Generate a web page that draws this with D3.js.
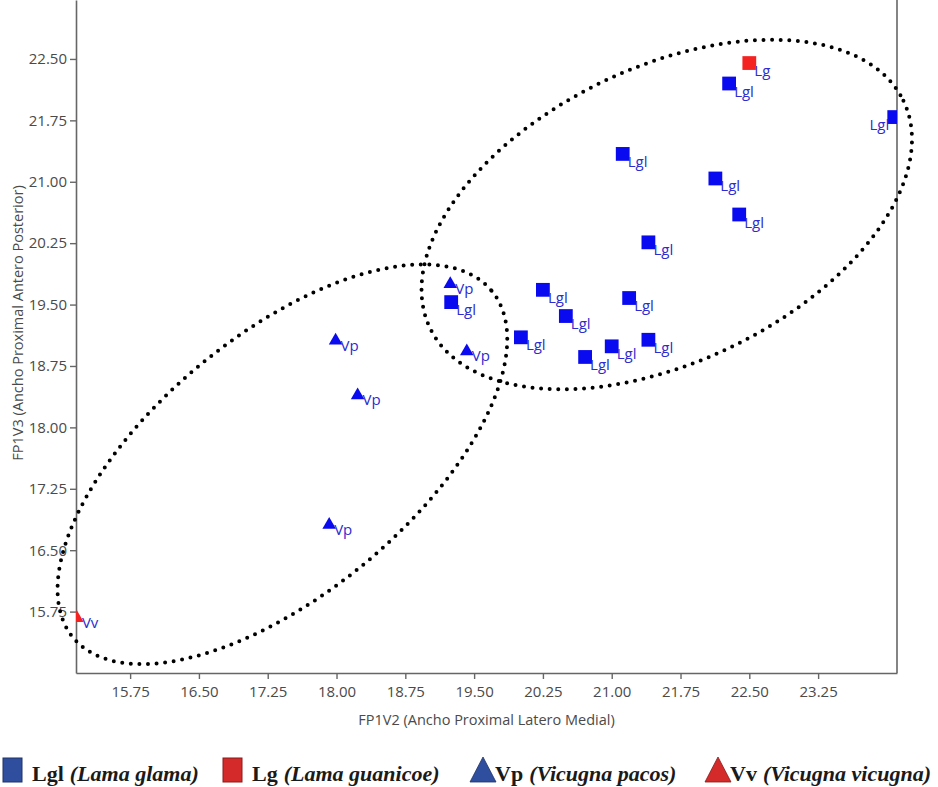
<!DOCTYPE html>
<html>
<head>
<meta charset="utf-8">
<script src="https://cdn.jsdelivr.net/npm/d3@7"></script>
<style>
  body { margin: 0; background: #fff; }
  svg { display: block; }
</style>
</head>
<body>
<svg id="chart" width="938" height="787"></svg>
<script>
// values
const xTicks = [15.75, 16.50, 17.25, 18.00, 18.75, 19.50, 20.25, 21.00, 21.75, 22.50, 23.25];
const yTicks = [15.75, 16.50, 17.25, 18.00, 18.75, 19.50, 20.25, 21.00, 21.75, 22.50];

const lglX = [22.28, 24.08, 21.12, 22.13, 22.39, 21.40, 20.25, 21.19, 19.25, 20.50, 20.01, 20.71, 21.00, 21.40];
const lglY = [22.20, 21.79, 21.34, 21.04, 20.60, 20.26, 19.68, 19.58, 19.53, 19.36, 19.10, 18.86, 18.99, 19.07];
const lgX = [22.50];
const lgY = [22.45];
const vpX = [19.24, 17.99, 19.42, 18.23, 17.92];
const vpY = [19.75, 19.06, 18.93, 18.39, 16.81];
const vvX = [15.17];
const vvY = [15.67];

const speciesCodes = ["Lgl", "Lg", "Vp", "Vv"];
const speciesNames = ["(Lama glama)", "(Lama guanicoe)", "(Vicugna pacos)", "(Vicugna vicugna)"];

// ellipses: centre, end of major semi-axis, end of minor semi-axis (data units)
const ellipseCentres = [[21.60, 20.60], [17.41, 17.55]];
const ellipseMajorEnds = [[24.18, 21.99], [19.69, 19.67]];
const ellipseMinorEnds = [[22.30, 18.98], [18.31, 16.34]];

const svg = d3.select("#chart");

const plotLeft = 76, plotRight = 897, plotTop = 0, plotBottom = 673;

const x = d3.scaleLinear().domain([15.16, 24.11]).range([plotLeft, plotRight]);
const y = d3.scaleLinear().domain([15.0, 23.22]).range([plotBottom, plotTop]);

const tickFont = "'Open Sans', 'Noto Sans', sans-serif";

// axes
const xAxis = svg.append("g")
    .attr("transform", `translate(0,${plotBottom})`)
    .call(d3.axisBottom(x).tickValues(xTicks).tickFormat(d3.format(".2f")).tickSize(6).tickSizeOuter(0).tickPadding(7));

const yAxis = svg.append("g")
    .attr("transform", `translate(${plotLeft},0)`)
    .call(d3.axisLeft(y).tickValues(yTicks).tickFormat(d3.format(".2f")).tickSize(6).tickSizeOuter(0).tickPadding(3));

[xAxis, yAxis].forEach(g => {
    g.select(".domain").attr("stroke", "#666").attr("stroke-width", 1.6);
    g.selectAll(".tick line").attr("stroke", "#666").attr("stroke-width", 1.4);
    g.selectAll(".tick text")
        .attr("fill", "#4a4a4a")
        .style("font-family", tickFont)
        .style("font-size", "15px");
});

svg.append("line")
    .attr("x1", plotRight).attr("x2", plotRight)
    .attr("y1", plotTop).attr("y2", plotBottom)
    .attr("stroke", "#666").attr("stroke-width", 1.6);

svg.append("text")
    .attr("x", (plotLeft + plotRight) / 2)
    .attr("y", 725)
    .attr("text-anchor", "middle")
    .attr("fill", "#4a4a4a")
    .style("font-family", tickFont)
    .style("font-size", "14.5px")
    .text("FP1V2 (Ancho Proximal Latero Medial)");

svg.append("text")
    .attr("transform", "translate(23,323) rotate(-90)")
    .attr("text-anchor", "middle")
    .attr("fill", "#4a4a4a")
    .style("font-family", tickFont)
    .style("font-size", "14.5px")
    .text("FP1V3 (Ancho Proximal Antero Posterior)");

// dotted ellipses
const ellipseLine = d3.line().curve(d3.curveLinearClosed);
ellipseCentres.forEach((c, i) => {
    const m = ellipseMajorEnds[i], n = ellipseMinorEnds[i];
    const pts = d3.range(0, 360, 1).map(deg => {
        const t = deg * Math.PI / 180;
        const vx = c[0] + Math.cos(t) * (m[0] - c[0]) + Math.sin(t) * (n[0] - c[0]);
        const vy = c[1] + Math.cos(t) * (m[1] - c[1]) + Math.sin(t) * (n[1] - c[1]);
        return [x(vx), y(vy)];
    });
    svg.append("path")
        .attr("d", ellipseLine(pts))
        .attr("fill", "none")
        .attr("stroke", "#000")
        .attr("stroke-width", 4)
        .attr("stroke-linecap", "round")
        .attr("stroke-dasharray", "0 8.6");
});

// markers, clipped to the plot frame
svg.append("clipPath").attr("id", "plot-clip")
    .append("rect")
    .attr("x", plotLeft).attr("y", plotTop)
    .attr("width", plotRight - plotLeft).attr("height", plotBottom - plotTop);

const markGroup = svg.append("g").attr("clip-path", "url(#plot-clip)");
const labelGroup = svg.append("g");

const series = [
    {code: "Lgl", xs: lglX, ys: lglY, shape: "square", colour: "#0a0af0"},
    {code: "Lg", xs: lgX, ys: lgY, shape: "square", colour: "#f52222"},
    {code: "Vp", xs: vpX, ys: vpY, shape: "triangle", colour: "#0a0af0"},
    {code: "Vv", xs: vvX, ys: vvY, shape: "triangle", colour: "#f52222"}
];

const squareSym = d3.symbol().type(d3.symbolSquare).size(190);
const triangleSym = d3.symbol().type(d3.symbolTriangle).size(80);

series.forEach(s => {
    const pts = s.xs.map((v, i) => ({x: v, y: s.ys[i]}));
    markGroup.selectAll(null)
        .data(pts)
        .join("path")
            .attr("transform", d => `translate(${x(d.x)},${y(d.y)})`)
            .attr("d", s.shape === "square" ? squareSym : triangleSym)
            .attr("fill", s.colour);

    labelGroup.selectAll(null)
        .data(pts)
        .join("text")
            .attr("x", d => {
                const px = x(d.x);
                if (px > plotRight - 10) return px - 5;
                return px + 5;
            })
            .attr("y", d => y(d.y) + (s.shape === "square" ? 13 : 10))
            .attr("text-anchor", d => x(d.x) > plotRight - 10 ? "end" : "start")
            .attr("fill", "#2c2cd0")
            .style("font-family", tickFont)
            .style("font-size", "15px")
            .text(s.code);
});

// legend
const legendX = [3, 223, 470, 705];
const legendColours = ["#2f4e9e", "#d42a2a", "#2f4e9e", "#d42a2a"];
const legendShapes = ["square", "square", "triangle", "triangle"];
const legend = svg.append("g");

speciesCodes.forEach((code, i) => {
    const lx = legendX[i];
    let textX;
    if (legendShapes[i] === "square") {
        legend.append("rect")
            .attr("x", lx).attr("y", 758)
            .attr("width", 19).attr("height", 24)
            .attr("fill", legendColours[i])
            .attr("stroke", d3.color(legendColours[i]).darker(1.2))
            .attr("stroke-width", 1);
        textX = lx + 29;
    } else {
        legend.append("path")
            .attr("d", `M${lx},782 L${lx + 13},757 L${lx + 26},782 Z`)
            .attr("fill", legendColours[i])
            .attr("stroke", d3.color(legendColours[i]).darker(1.2))
            .attr("stroke-width", 0.8);
        textX = lx + 25;
    }
    const t = legend.append("text")
        .attr("x", textX)
        .attr("y", 781)
        .attr("fill", "#1a1a1a")
        .style("font-family", "'Liberation Serif', 'Times New Roman', serif")
        .style("font-size", "22px")
        .style("font-weight", "bold");
    t.append("tspan").text(code);
    t.append("tspan").attr("dx", 6).style("font-style", "italic").text(speciesNames[i]);
});
</script>
</body>
</html>
